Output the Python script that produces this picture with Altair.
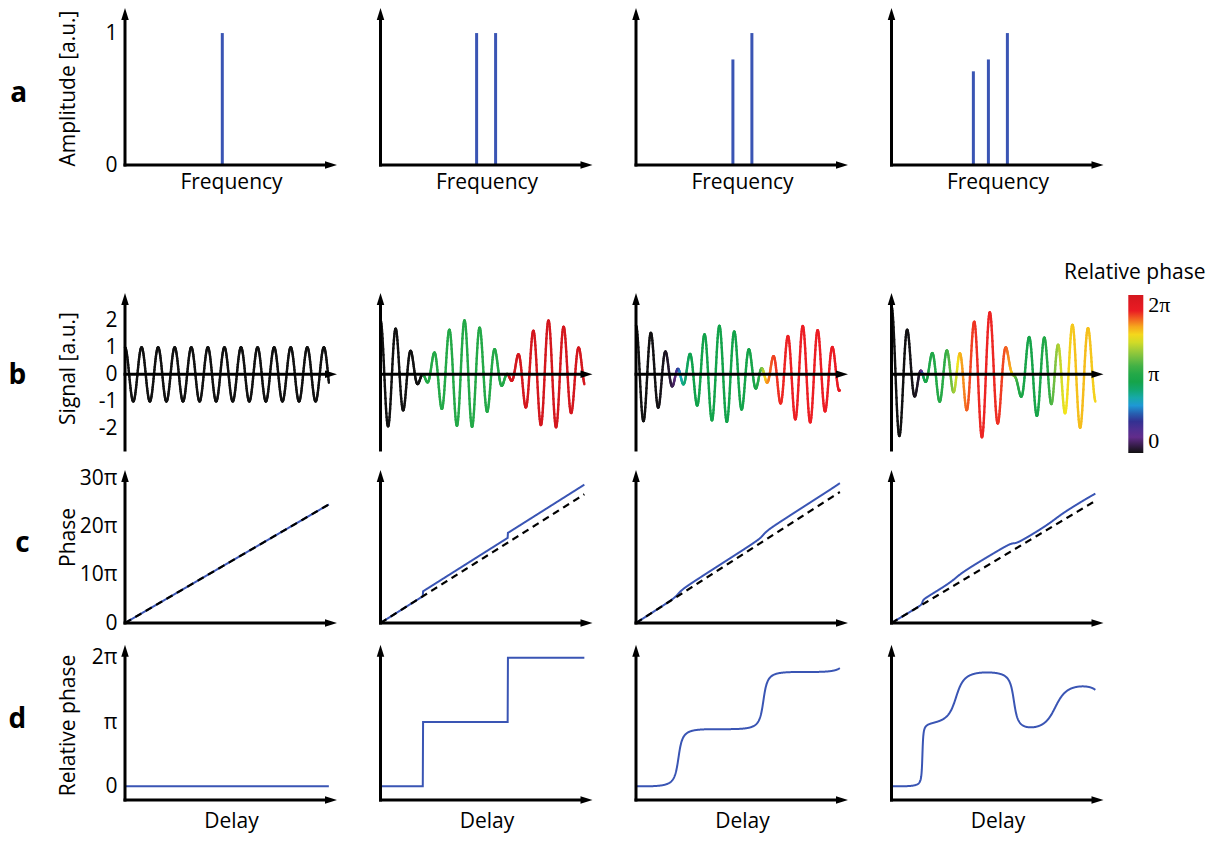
import numpy as np
import pandas as pd
import altair as alt

# ------------------------------------------------------------------
# Data
# ------------------------------------------------------------------
ROW_LETTERS = ["a", "b", "c", "d"]
# stick spectra: frequency (cycles per unit delay) and amplitude [a.u.]
FREQS = [[12.3], [12.15, 14.55], [12.25, 14.65], [10.35, 12.25, 14.65]]
AMPS = [[1.0], [1.0, 1.0], [0.8, 1.0], [0.71, 0.8, 1.0]]
DELAY_END = 1.0

FREQ_AXIS = [0, 26.8]
DELAY_AXIS = [0, 1.04]
AMP_AXIS = [0, 1.19]
SIGNAL_AXIS = [-2.8, 7.01]
SIGNAL_TIP = 3.01
PHASE_AXIS = [0, 31.74]      # units of pi
REL_AXIS = [-0.212, 2.228]   # units of pi
REL_TIP = 2.2

AMP_TICKS = [0, 1]
SIGNAL_TICKS = [-2, -1, 0, 1, 2]
PHASE_TICKS = [0, 10, 20, 30]
REL_TICKS = [0, 1, 2]

PHASE_COLOR_STOPS = [0.0, 0.21, 0.42, 0.62, 0.73, 0.87, 1.05, 1.26, 1.47, 1.64, 1.78, 2.0]
PHASE_COLORS = ["#111111", "#662d91", "#2e3192", "#1ca3dc", "#15ab96", "#10a24b",
                "#2bab47", "#8dc63f", "#f3e51b", "#f7931e", "#ec1c24", "#d4171e"]

BLUE = "#3a55b4"
FONT = "Open Sans"
FS = 21

# ------------------------------------------------------------------
# Signals synthesised from the stick spectra
# ------------------------------------------------------------------
N_T = 700
t = np.linspace(0.0, DELAY_END, N_T)
series = []
for fs, amps in zip(FREQS, AMPS):
    fs = np.asarray(fs, float)
    amps = np.asarray(amps, float)
    fref = float((fs * amps).sum() / amps.sum())
    env = (amps[:, None] * np.exp(2j * np.pi * (fs - fref)[:, None] * t[None, :])).sum(axis=0)
    ang = np.angle(env)
    step = np.diff(ang)
    step = np.mod(step + np.pi - 1e-3, 2 * np.pi) - np.pi + 1e-3
    rel = (np.concatenate([[0.0], np.cumsum(step)]) + ang[0]) / np.pi
    sig = (amps[:, None] * np.cos(2 * np.pi * fs[:, None] * t[None, :])).sum(axis=0)
    series.append(dict(rel=rel, sig=sig, carrier=2 * fref * t, phase=2 * fref * t + rel))

W = 212
H = {"a": 157, "b": 265, "c": 153, "d": 157}
ARROW_UP = "M0,0L-0.75,2.4L0.75,2.4Z"
ARROW_RIGHT = "M0,0L-2.4,-0.75L-2.4,0.75Z"
ARROW_BACK = 9

COLOR_LEGEND = alt.Legend(
    orient="none", legendX=1003.3, legendY=287, direction="vertical",
    gradientLength=158, gradientThickness=15, gradientStrokeWidth=0,
    title=None, values=REL_TICKS,
    labelExpr="datum.value == 0 ? '0' : (datum.value == 1 ? 'π' : datum.value + 'π')",
    labelFont="Liberation Serif", labelFontSize=22, labelColor="black", labelOffset=5,
    labelOverlap=False)
COLOR_SCALE = alt.Scale(domain=PHASE_COLOR_STOPS, range=PHASE_COLORS, interpolate="rgb")


def enc_x(dom, axis):
    def f(field):
        return alt.X(field, type="quantitative",
                     scale=alt.Scale(domain=dom, nice=False, zero=False), axis=axis)
    return f


def enc_y(dom, axis):
    def f(field):
        return alt.Y(field, type="quantitative",
                     scale=alt.Scale(domain=dom, nice=False, zero=False), axis=axis)
    return f


def axis_layers(xdom, ydom, ytip, xaxis_at, w, h, X, Y):
    bx = (xdom[1] - xdom[0]) * ARROW_BACK / w
    by = (ydom[1] - ydom[0]) * ARROW_BACK / h
    lines = pd.DataFrame({"ax": [xdom[0], xdom[0]], "ax2": [xdom[0], xdom[1] - bx],
                          "ay": [ydom[0], xaxis_at], "ay2": [ytip - by, xaxis_at]})
    rule = alt.Chart(lines).mark_rule(color="black", strokeWidth=3, strokeCap="square").encode(
        x=X("ax"), x2=alt.X2("ax2"), y=Y("ay"), y2=alt.Y2("ay2"))
    up = alt.Chart(pd.DataFrame({"ax": [xdom[0]], "ay": [ytip]})).mark_point(
        shape=ARROW_UP, filled=True, size=100, color="black", opacity=1, strokeWidth=0
    ).encode(x=X("ax"), y=Y("ay"))
    right = alt.Chart(pd.DataFrame({"ax": [xdom[1]], "ay": [xaxis_at]})).mark_point(
        shape=ARROW_RIGHT, filled=True, size=100, color="black", opacity=1, strokeWidth=0
    ).encode(x=X("ax"), y=Y("ay"))
    return [rule, up, right]


def y_axis(p, title, values, expr, title_y=None):
    if p != 0:
        return None
    kw = dict(values=values, labelExpr=expr, title=title, domain=False, ticks=False,
              grid=False, labelPadding=8, minExtent=40, maxExtent=40, titlePadding=7)
    if title_y is not None:
        kw["titleY"] = title_y
    return alt.Axis(**kw)


def x_title_axis(title, pad):
    return alt.Axis(title=title, domain=False, ticks=False, labels=False, grid=False,
                    titlePadding=pad, minExtent=0)


def letter(text, dy):
    return alt.TitleParams(text=text, orient="left", anchor="middle", frame="group",
                           angle=0, align="right", baseline="middle", offset=13, dy=dy,
                           fontSize=28, fontWeight="bold", font=FONT, color="black")


def finish(layers, p, h, row_letter, dy):
    ch = alt.layer(*layers).properties(width=W, height=h)
    if p == 0:
        ch = ch.properties(title=letter(row_letter, dy))
    return ch


panels = []

# ---------------- row a: spectra ----------------
for p in range(4):
    X = enc_x(FREQ_AXIS, x_title_axis("Frequency", 6))
    Y = enc_y(AMP_AXIS, y_axis(p, "Amplitude [a.u.]", AMP_TICKS, "'' + datum.value",
                               title_y=80))
    sticks = pd.DataFrame({"f": FREQS[p], "amp": AMPS[p], "zero": [0.0] * len(FREQS[p])})
    st = alt.Chart(sticks).mark_rule(color=BLUE, strokeWidth=3).encode(
        x=X("f"), y=Y("zero"), y2=alt.Y2("amp"))
    layers = [st] + axis_layers(FREQ_AXIS, AMP_AXIS, AMP_AXIS[1], 0.0, W, H["a"], X, Y)
    panels.append(finish(layers, p, H["a"], "a", 7.5))

# ---------------- row b: signals coloured by relative phase ----------------
for p in range(4):
    s = series[p]
    X = enc_x(DELAY_AXIS, None)
    Y = enc_y(SIGNAL_AXIS, y_axis(p, "Signal [a.u.]", SIGNAL_TICKS,
                                  "datum.value < 0 ? '-' + (-datum.value) : '' + datum.value",
                                  title_y=183))
    seg = pd.DataFrame({"t0": t[:-1], "t1": t[1:], "s0": s["sig"][:-1], "s1": s["sig"][1:],
                        "c": np.clip((s["rel"][:-1] + s["rel"][1:]) / 2, 0, 2)})
    sl = alt.Chart(seg).mark_rule(strokeWidth=2.4, strokeCap="round").encode(
        x=X("t0"), x2=alt.X2("t1"), y=Y("s0"), y2=alt.Y2("s1"),
        color=alt.Color("c:Q", scale=COLOR_SCALE, legend=COLOR_LEGEND))
    layers = [sl] + axis_layers(DELAY_AXIS, SIGNAL_AXIS, SIGNAL_TIP, 0.0, W, H["b"], X, Y)
    ch = finish(layers, p, H["b"], "b", 58.5)
    if p == 3:
        ch = ch.properties(title=alt.TitleParams(
            "Relative phase", anchor="end", frame="group", offset=0, dx=102, dy=98,
            fontSize=FS, font=FONT, fontWeight="normal", color="black"))
    panels.append(ch)

# ---------------- row c: phase ----------------
for p in range(4):
    s = series[p]
    X = enc_x(DELAY_AXIS, None)
    Y = enc_y(PHASE_AXIS, y_axis(p, "Phase", PHASE_TICKS,
                                 "datum.value == 0 ? '0' : datum.value + 'π'", title_y=67))
    df = pd.DataFrame({"t": t, "phase": s["phase"], "carrier": s["carrier"]})
    solid = alt.Chart(df).mark_line(color=BLUE, strokeWidth=2).encode(x=X("t"), y=Y("phase"))
    dashed = alt.Chart(df).mark_line(color="black", strokeWidth=2.2, strokeDash=[7, 5]).encode(
        x=X("t"), y=Y("carrier"))
    layers = [solid, dashed] + axis_layers(DELAY_AXIS, PHASE_AXIS, PHASE_AXIS[1], 0.0,
                                           W, H["c"], X, Y)
    panels.append(finish(layers, p, H["c"], "c", -2.5))

# ---------------- row d: relative phase ----------------
for p in range(4):
    s = series[p]
    X = enc_x(DELAY_AXIS, x_title_axis("Delay", 10))
    Y = enc_y(REL_AXIS, y_axis(p, "Relative phase", REL_TICKS,
                               "datum.value == 0 ? '0' : (datum.value == 1 ? 'π' : datum.value + 'π')",
                               title_y=82))
    df = pd.DataFrame({"t": t, "rel": s["rel"]})
    ln = alt.Chart(df).mark_line(color=BLUE, strokeWidth=2).encode(x=X("t"), y=Y("rel"))
    layers = [ln] + axis_layers(DELAY_AXIS, REL_AXIS, REL_TIP, REL_AXIS[0], W, H["d"], X, Y)
    panels.append(finish(layers, p, H["d"], "d", -2))

chart = alt.concat(
    *panels, columns=4, spacing={"row": 20, "column": 43.5}, bounds="flush"
).resolve_scale(
    x="independent", y="independent"
).properties(
    padding={"left": 8, "top": 7, "right": 5, "bottom": 5}
).configure_view(
    stroke="transparent"
).configure_axis(
    labelFont=FONT, labelFontSize=FS, labelColor="black",
    titleFont=FONT, titleFontSize=FS, titleFontWeight="normal", titleColor="black"
).configure_title(
    font=FONT, fontSize=FS, color="black"
)

chart.save("out.html", embed_options={"renderer": "svg", "actions": False})
